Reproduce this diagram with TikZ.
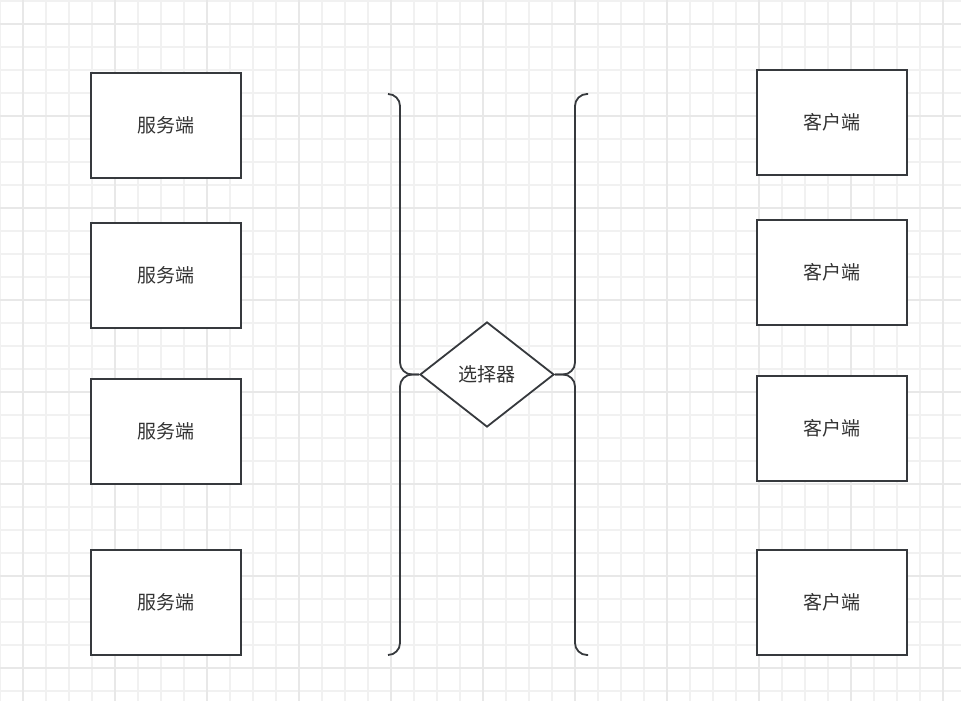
\documentclass[tikz,border=0pt]{standalone}
\usepackage{fontspec}
\newfontfamily\cjk{Noto Sans CJK SC}
\usepackage{xcolor}
\usepackage{tikz}
\usetikzlibrary{shapes,positioning}
\definecolor{strokegray}{RGB}{54, 57, 61}
\definecolor{textgray}{RGB}{51, 51, 51}
\definecolor{minorgrid}{RGB}{241, 241, 241}
\definecolor{majorgrid}{RGB}{232, 232, 232}

\tikzset{
    endbox/.style={draw=strokegray, line width=1.8pt, fill=white, minimum width=150pt,
        minimum height=105pt, inner sep=0pt, font=\cjk\fontsize{19}{19}\selectfont, text=textgray},
    selbox/.style={draw=strokegray, line width=1.8pt, fill=white, diamond, minimum width=134pt,
        minimum height=105pt, inner sep=0pt, font=\cjk\fontsize{19}{19}\selectfont, text=textgray},
    brace/.style={draw=strokegray, line width=1.8pt, rounded corners=12pt}
}

\begin{document}
\begin{tikzpicture}[x=1pt, y=-1pt]
            \useasboundingbox[fill=white] (0,0) rectangle (961,701);

            % Background grid
            \foreach \gx in {0,23,...,961} {
                \draw[minorgrid, line width=1.6pt] (\gx,0) -- (\gx,701);
            }
            \foreach \gy in {1,24,...,701} {
                \draw[minorgrid, line width=1.6pt] (0,\gy) -- (961,\gy);
            }
            \foreach \gx in {23,115,...,961} {
                \draw[majorgrid, line width=1.8pt] (\gx,0) -- (\gx,701);
            }
            \foreach \gy in {24,116,...,701} {
                \draw[majorgrid, line width=1.8pt] (0,\gy) -- (961,\gy);
            }

            % Servers
            \node[endbox] (srv1) at (166,125.5) {服务端};
            \node[endbox] (srv2) at (166,275.5) {服务端};
            \node[endbox] (srv3) at (166,431.5) {服务端};
            \node[endbox] (srv4) at (166,602.5) {服务端};

            % Clients
            \node[endbox] (cli1) at (832,122.5) {客户端};
            \node[endbox] (cli2) at (832,272.5) {客户端};
            \node[endbox] (cli3) at (832,428.5) {客户端};
            \node[endbox] (cli4) at (832,602.5) {客户端};

            % Selector
            \node[selbox] (sel) at (487,374.5) {选择器};

            % Braces
            \coordinate (ltop) at (388,94);
            \coordinate (lbot) at (388,655);
            \coordinate (rtop) at (588,94);
            \coordinate (rbot) at (588,655);

            \draw[brace] (ltop) -- (400,94) -- (400,374.5) -- (sel.west);
            \draw[brace] (sel.west) -- (400,374.5) -- (400,655) -- (lbot);
            \draw[brace] (rtop) -- (575,94) -- (575,374.5) -- (sel.east);
            \draw[brace] (sel.east) -- (575,374.5) -- (575,655) -- (rbot);
        \end{tikzpicture}
\end{document}
